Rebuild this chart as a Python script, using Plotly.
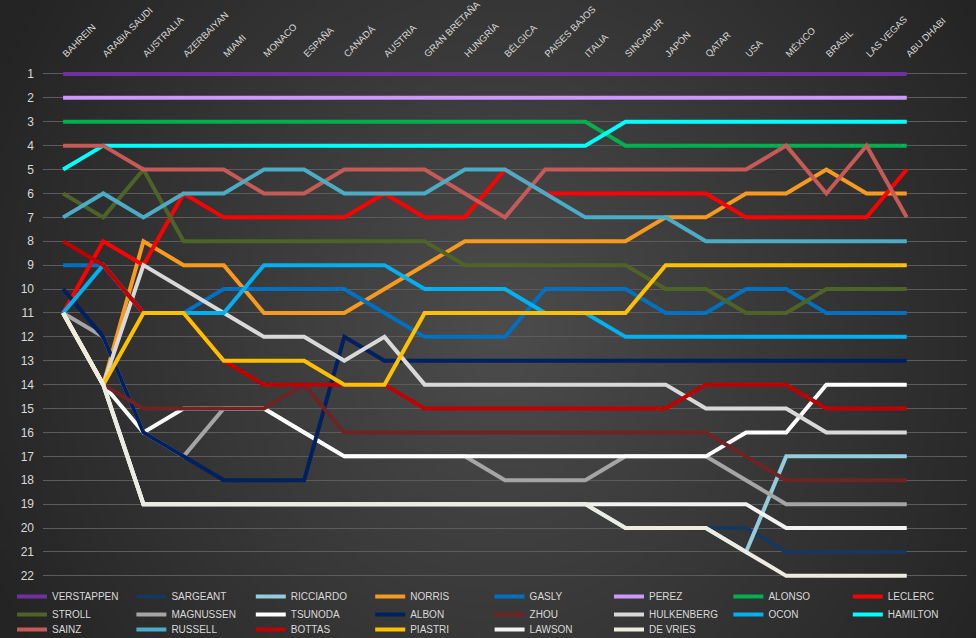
import zlib, struct, base64, math
import plotly.graph_objects as go

races = ["BAHREIN", "ARABIA SAUDI", "AUSTRALIA", "AZERBAIYAN", "MIAMI", "MONACO", "ESPAÑA",
         "CANADÁ", "AUSTRIA", "GRAN BRETAÑA", "HUNGRÍA", "BÉLGICA", "PAISES BAJOS", "ITALIA",
         "SINGAPUR", "JAPÓN", "QATAR", "USA", "MÉXICO", "BRASIL", "LAS VEGAS", "ABU DHABI"]

verstappen = [1, 1, 1, 1, 1, 1, 1, 1, 1, 1, 1, 1, 1, 1, 1, 1, 1, 1, 1, 1, 1, 1]
sargeant   = [11, 14, 19, 19, 19, 19, 19, 19, 19, 19, 19, 19, 19, 19, 20, 20, 20, 20, 21, 21, 21, 21]
ricciardo  = [11, 14, 19, 19, 19, 19, 19, 19, 19, 19, 19, 19, 19, 19, 20, 20, 20, 21, 17, 17, 17, 17]
norris     = [11, 14, 8, 9, 9, 11, 11, 11, 10, 9, 8, 8, 8, 8, 8, 7, 7, 6, 6, 5, 6, 6]
gasly      = [9, 9, 11, 11, 10, 10, 10, 10, 11, 12, 12, 12, 10, 10, 10, 11, 11, 10, 10, 11, 11, 11]
perez      = [2, 2, 2, 2, 2, 2, 2, 2, 2, 2, 2, 2, 2, 2, 2, 2, 2, 2, 2, 2, 2, 2]
alonso     = [3, 3, 3, 3, 3, 3, 3, 3, 3, 3, 3, 3, 3, 3, 4, 4, 4, 4, 4, 4, 4, 4]
leclerc    = [11, 8, 9, 6, 7, 7, 7, 7, 6, 7, 7, 5, 6, 6, 6, 6, 6, 7, 7, 7, 7, 5]
stroll     = [6, 7, 5, 8, 8, 8, 8, 8, 8, 8, 9, 9, 9, 9, 9, 10, 10, 11, 11, 10, 10, 10]
magnussen  = [11, 12, 16, 17, 15, 15, 16, 17, 17, 17, 17, 18, 18, 18, 17, 17, 17, 18, 19, 19, 19, 19]
tsunoda    = [11, 14, 16, 15, 15, 15, 16, 17, 17, 17, 17, 17, 17, 17, 17, 17, 17, 16, 16, 14, 14, 14]
albon      = [10, 12, 16, 17, 18, 18, 18, 12, 13, 13, 13, 13, 13, 13, 13, 13, 13, 13, 13, 13, 13, 13]
zhou       = [11, 14, 15, 15, 15, 15, 14, 16, 16, 16, 16, 16, 16, 16, 16, 16, 16, 17, 18, 18, 18, 18]
hulkenberg = [11, 14, 9, 10, 11, 12, 12, 13, 12, 14, 14, 14, 14, 14, 14, 14, 15, 15, 15, 16, 16, 16]
ocon       = [11, 9, 11, 11, 11, 9, 9, 9, 9, 10, 10, 10, 11, 11, 12, 12, 12, 12, 12, 12, 12, 12]
hamilton   = [5, 4, 4, 4, 4, 4, 4, 4, 4, 4, 4, 4, 4, 4, 3, 3, 3, 3, 3, 3, 3, 3]
sainz      = [4, 4, 5, 5, 5, 6, 6, 5, 5, 5, 6, 7, 5, 5, 5, 5, 5, 5, 4, 6, 4, 7]
russell    = [7, 6, 7, 6, 6, 5, 5, 6, 6, 6, 5, 5, 6, 7, 7, 7, 8, 8, 8, 8, 8, 8]
bottas     = [8, 9, 11, 11, 13, 14, 14, 14, 14, 15, 15, 15, 15, 15, 15, 15, 14, 14, 14, 15, 15, 15]
piastri    = [11, 14, 11, 11, 13, 13, 13, 14, 14, 11, 11, 11, 11, 11, 11, 9, 9, 9, 9, 9, 9, 9]
lawson     = [11, 14, 19, 19, 19, 19, 19, 19, 19, 19, 19, 19, 19, 19, 19, 19, 19, 19, 20, 20, 20, 20]
devries    = [11, 14, 19, 19, 19, 19, 19, 19, 19, 19, 19, 19, 19, 19, 20, 20, 20, 21, 22, 22, 22, 22]

positions = list(range(1, 23))

drivers = [
    ("VERSTAPPEN", verstappen, "#7030A0"),
    ("SARGEANT", sargeant, "#17375E"),
    ("RICCIARDO", ricciardo, "#92CDDC"),
    ("NORRIS", norris, "#F79A1E"),
    ("GASLY", gasly, "#0070C0"),
    ("PEREZ", perez, "#CC99FF"),
    ("ALONSO", alonso, "#00B050"),
    ("LECLERC", leclerc, "#FF0000"),
    ("STROLL", stroll, "#4F6228"),
    ("MAGNUSSEN", magnussen, "#A5A5A5"),
    ("TSUNODA", tsunoda, "#FFFFFF"),
    ("ALBON", albon, "#002060"),
    ("ZHOU", zhou, "#6E2424"),
    ("HULKENBERG", hulkenberg, "#D9D9D9"),
    ("OCON", ocon, "#00B0F0"),
    ("HAMILTON", hamilton, "#00FFFF"),
    ("SAINZ", sainz, "#C65A56"),
    ("RUSSELL", russell, "#4BACC6"),
    ("BOTTAS", bottas, "#C00000"),
    ("PIASTRI", piastri, "#FFC000"),
    ("LAWSON", lawson, "#F2F2F2"),
    ("DE VRIES", devries, "#EEECE1"),
]

W, H = 976, 638
ML, MR, MT = 43, 9, 62
PLOT_BOTTOM = 581
MB = H - PLOT_BOTTOM
PW, PH = W - ML - MR, PLOT_BOTTOM - MT
UNIT = 23.9                      # pixels per position step
Y_BOTTOM = 0.5 + PH / UNIT


def gradient_png(w, h):
    rows = []
    for j in range(h):
        row = bytearray([0])
        for i in range(w):
            fx = (i + 0.5) / w * W
            fy = (j + 0.5) / h * H
            t = math.sqrt(((fx - 500) / 560.0) ** 2 + ((fy - 330) / 600.0) ** 2)
            t = min(t, 1.0)
            v = int(round(76 * (1 - t) + 36 * t))
            row += bytes([v, v, v])
        rows.append(bytes(row))
    raw = b"".join(rows)

    def chunk(tag, data):
        c = struct.pack(">I", len(data)) + tag + data
        return c + struct.pack(">I", zlib.crc32(tag + data) & 0xffffffff)

    png = (b"\x89PNG\r\n\x1a\n"
           + chunk(b"IHDR", struct.pack(">IIBBBBB", w, h, 8, 2, 0, 0, 0))
           + chunk(b"IDAT", zlib.compress(raw, 9))
           + chunk(b"IEND", b""))
    return "data:image/png;base64," + base64.b64encode(png).decode()


legend_ids = ["legend", "legend2", "legend3"]

fig = go.Figure()
for k, (name, vals, color) in enumerate(drivers):
    fig.add_trace(go.Scatter(
        x=races, y=vals, mode="lines", name=name,
        line=dict(color=color, width=4),
        hoverinfo="skip",
        legend=legend_ids[k // 8],
    ))


def legend_style(top_px):
    return dict(
        orientation="h",
        x=(12 - ML) / PW, xanchor="left",
        y=(PLOT_BOTTOM - top_px) / PH, yanchor="top",
        entrywidth=74.4, entrywidthmode="pixels",
        bgcolor="rgba(0,0,0,0)",
        font=dict(family="Liberation Sans Narrow, Arial Narrow, Liberation Sans, sans-serif",
                  size=10, color="#d9d9d9"),
        tracegroupgap=0,
    )


fig.update_layout(
    width=W, height=H,
    margin=dict(l=ML, r=MR, t=MT, b=MB, autoexpand=False),
    paper_bgcolor="#3a3a3a",
    plot_bgcolor="rgba(0,0,0,0)",
    showlegend=True,
    images=[dict(
        source=gradient_png(244, 160),
        xref="paper", yref="paper",
        x=-ML / PW, y=1 + MT / PH,
        sizex=W / PW, sizey=H / PH,
        xanchor="left", yanchor="top",
        sizing="stretch", layer="below",
    )],
    xaxis=dict(
        type="category", categoryorder="array", categoryarray=races,
        range=[-0.5, 22.5], side="top", tickangle=-45,
        showgrid=False, zeroline=False, showline=False, ticks="",
        automargin=False,
        tickfont=dict(family="Liberation Sans, Arial, sans-serif", size=9.5, color="#d9d9d9"),
        fixedrange=True,
    ),
    yaxis=dict(
        range=[Y_BOTTOM, 0.5], tickmode="array", tickvals=positions,
        ticktext=[str(p) for p in positions],
        showgrid=True, gridcolor="#5c5c5c", gridwidth=1,
        zeroline=False, showline=False, ticks="",
        automargin=False,
        ticklabelstandoff=8,
        tickfont=dict(family="Liberation Sans, Arial, sans-serif", size=12, color="#d9d9d9"),
        fixedrange=True,
    ),
    legend=legend_style(582),
    legend2=legend_style(600),
    legend3=legend_style(615),
)

fig.write_html(
    "out.html",
    config={"displayModeBar": False},
    post_script="document.body.style.margin='0px';document.body.style.overflow='hidden';",
)
